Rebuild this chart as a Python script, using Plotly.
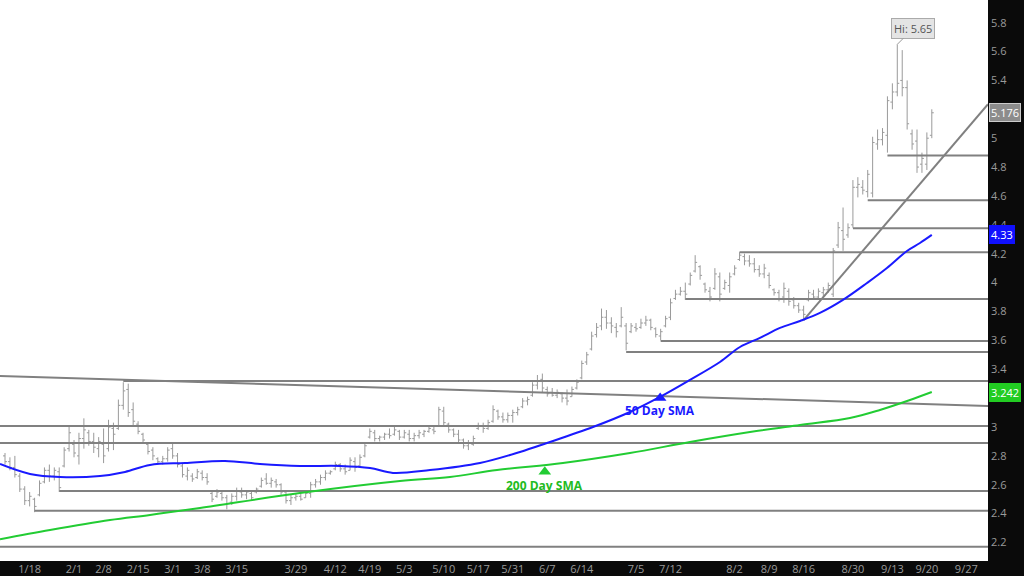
import plotly.graph_objects as go

# ---------------- data ----------------
highs = [2.82,2.79,2.80,2.68,2.59,2.55,2.51,2.63,2.72,2.74,2.72,2.72,2.86,3.00,2.91,2.96,3.06,2.98,2.96,2.93,
         2.99,3.05,3.03,3.19,3.31,3.30,3.17,3.04,2.96,2.89,2.86,2.79,2.80,2.86,2.89,2.82,2.75,2.72,2.68,2.71,
         2.70,2.68,2.56,2.57,2.56,2.53,2.54,2.58,2.58,2.56,2.56,2.58,2.65,2.68,2.65,2.64,2.61,2.56,2.53,2.54,
         2.54,2.56,2.62,2.64,2.67,2.70,2.70,2.76,2.75,2.74,2.79,2.79,2.81,2.89,2.99,2.98,2.94,2.96,2.99,3.00,
         2.98,2.98,2.98,2.96,2.98,2.98,3.00,3.00,3.14,3.14,3.03,2.99,2.98,2.92,2.91,2.94,3.03,3.03,3.05,3.15,
         3.12,3.10,3.10,3.12,3.14,3.20,3.21,3.31,3.36,3.37,3.28,3.27,3.26,3.24,3.26,3.28,3.33,3.46,3.52,3.66,
         3.72,3.82,3.81,3.76,3.72,3.83,3.72,3.72,3.72,3.75,3.77,3.75,3.69,3.68,3.77,3.89,3.95,3.97,4.00,4.07,
         4.19,4.12,4.00,3.97,4.10,4.07,4.02,4.07,4.12,4.21,4.20,4.19,4.17,4.12,4.13,4.07,3.96,3.95,4.00,3.96,
         3.90,3.86,3.84,3.95,3.95,3.96,3.97,4.00,4.24,4.42,4.52,4.41,4.71,4.73,4.71,4.78,5.01,5.06,5.07,5.29,
         5.38,5.65,5.61,5.40,5.06,5.06,4.90,5.04,5.20]
lows = [2.74,2.70,2.65,2.55,2.46,2.45,2.41,2.52,2.61,2.62,2.63,2.55,2.72,2.83,2.79,2.74,2.85,2.87,2.82,2.79,
        2.75,2.83,2.84,2.98,3.12,3.07,3.01,2.95,2.89,2.81,2.77,2.74,2.74,2.76,2.78,2.72,2.65,2.63,2.62,2.64,
        2.63,2.60,2.48,2.51,2.49,2.43,2.46,2.49,2.51,2.50,2.49,2.54,2.58,2.60,2.58,2.58,2.53,2.47,2.46,2.49,
        2.49,2.51,2.51,2.58,2.60,2.63,2.67,2.70,2.69,2.67,2.70,2.69,2.72,2.79,2.92,2.90,2.90,2.91,2.92,2.94,
        2.91,2.92,2.90,2.90,2.92,2.93,2.96,2.95,3.00,3.01,2.96,2.93,2.89,2.85,2.84,2.87,2.98,2.96,2.98,3.03,
        3.05,3.03,3.03,3.03,3.08,3.13,3.15,3.21,3.26,3.24,3.21,3.21,3.20,3.17,3.15,3.21,3.26,3.33,3.43,3.53,
        3.62,3.67,3.68,3.65,3.62,3.69,3.53,3.65,3.66,3.68,3.70,3.67,3.62,3.60,3.69,3.74,3.88,3.91,3.88,3.98,
        4.07,4.02,3.93,3.87,3.95,3.87,3.95,3.93,4.05,4.15,4.12,4.11,4.07,4.04,4.03,3.96,3.91,3.87,3.86,3.84,
        3.82,3.79,3.74,3.87,3.88,3.89,3.90,3.93,3.90,4.24,4.22,4.31,4.38,4.59,4.61,4.59,4.59,4.92,4.95,4.90,
        5.20,5.29,5.29,5.06,4.92,4.76,4.76,4.78,5.00]
opens = [2.80,2.76,2.72,2.66,2.57,2.49,2.50,2.53,2.62,2.70,2.66,2.69,2.73,2.85,2.88,2.80,2.92,2.96,2.90,2.85,
         2.88,2.85,2.99,2.99,3.15,3.26,3.12,3.02,2.95,2.88,2.84,2.78,2.76,2.78,2.85,2.80,2.73,2.66,2.66,2.65,
         2.68,2.65,2.54,2.52,2.54,2.51,2.48,2.52,2.55,2.53,2.54,2.55,2.59,2.64,2.61,2.62,2.60,2.55,2.49,2.51,
         2.52,2.51,2.54,2.60,2.62,2.65,2.68,2.71,2.74,2.71,2.70,2.76,2.73,2.80,2.93,2.96,2.92,2.93,2.95,2.95,
         2.97,2.93,2.95,2.92,2.94,2.95,2.97,2.98,3.01,3.11,3.02,2.98,2.95,2.91,2.87,2.88,2.99,3.01,2.99,3.04,
         3.11,3.07,3.05,3.08,3.10,3.14,3.18,3.22,3.29,3.33,3.26,3.24,3.22,3.23,3.20,3.21,3.27,3.34,3.45,3.54,
         3.64,3.70,3.76,3.72,3.69,3.70,3.70,3.66,3.69,3.69,3.72,3.74,3.68,3.63,3.70,3.76,3.89,3.92,3.94,3.99,
         4.08,4.11,3.99,3.94,3.96,4.04,3.96,3.98,4.06,4.16,4.18,4.15,4.13,4.09,4.06,4.05,3.95,3.93,3.90,3.94,
         3.88,3.84,3.81,3.88,3.92,3.90,3.93,3.95,3.92,4.26,4.36,4.33,4.40,4.66,4.66,4.63,4.62,4.96,4.99,5.02,
         5.25,5.32,5.40,5.35,5.03,4.98,4.82,4.82,5.02]
closes = [2.76,2.72,2.67,2.57,2.49,2.52,2.45,2.61,2.70,2.66,2.70,2.58,2.84,2.96,2.82,2.92,2.98,2.90,2.86,2.90,
          2.80,3.00,2.95,3.15,3.25,3.10,3.04,2.97,2.91,2.83,2.80,2.76,2.78,2.84,2.80,2.74,2.67,2.70,2.64,2.69,
          2.65,2.62,2.50,2.55,2.51,2.47,2.52,2.56,2.53,2.55,2.51,2.57,2.63,2.61,2.63,2.60,2.55,2.49,2.51,2.52,
          2.50,2.54,2.60,2.62,2.65,2.68,2.69,2.74,2.71,2.69,2.77,2.72,2.79,2.87,2.97,2.92,2.93,2.95,2.94,2.98,
          2.93,2.96,2.92,2.94,2.96,2.97,2.99,2.97,3.12,3.03,2.98,2.95,2.91,2.87,2.89,2.92,3.01,2.99,3.03,3.12,
          3.07,3.05,3.08,3.10,3.12,3.18,3.19,3.29,3.32,3.27,3.23,3.22,3.24,3.20,3.18,3.26,3.31,3.44,3.50,3.63,
          3.69,3.76,3.72,3.70,3.66,3.76,3.58,3.70,3.68,3.72,3.74,3.69,3.64,3.66,3.75,3.86,3.92,3.94,3.92,4.05,
          4.14,4.05,3.95,3.90,4.06,3.92,4.00,4.04,4.10,4.19,4.15,4.13,4.09,4.06,4.10,3.98,3.93,3.89,3.96,3.87,
          3.84,3.81,3.78,3.93,3.90,3.94,3.95,3.98,4.22,4.38,4.30,4.38,4.66,4.68,4.64,4.75,4.97,4.99,5.04,5.26,
          5.32,5.38,5.35,5.10,4.96,4.80,4.86,5.00,5.176]
bar_index = list(range(len(closes)))

tick_pos = [5, 14, 20, 27, 34, 40, 47, 59, 67, 74, 81, 89, 96, 103, 110, 117, 128, 135, 148, 155, 162, 172, 180, 187, 195]
tick_text = ["1/18", "2/1", "2/8", "2/15", "3/1", "3/8", "3/15", "3/29", "4/12", "4/19", "5/3", "5/10", "5/17",
             "5/31", "6/7", "6/14", "7/5", "7/12", "8/2", "8/9", "8/16", "8/30", "9/13", "9/20", "9/27"]

y_ticks = [2.2, 2.4, 2.6, 2.8, 3.0, 3.2, 3.4, 3.6, 3.8, 4.0, 4.2, 4.4, 4.6, 4.8, 5.0, 5.2, 5.4, 5.6, 5.8]
y_tick_text = ["2.2", "2.4", "2.6", "2.8", "3", "3.2", "3.4", "3.6", "3.8", "4", "4.2", "4.4", "4.6", "4.8",
               "5", "5.2", "5.4", "5.6", "5.8"]

sma50_x = [-1.01, 5.07, 11.16, 19.27, 24.34, 29.41, 36.51, 44.62, 51.72, 59.84, 67.95, 74.04, 78.70, 86.21,
           96.35, 104.46, 109.94, 119.27, 126.77, 132.86, 138.95, 145.03, 149.09, 153.14, 157.20, 161.26,
           165.31, 169.98, 174.85, 178.90, 182.96, 185.60, 188.0]
sma50_y = [2.744, 2.675, 2.654, 2.661, 2.689, 2.737, 2.751, 2.765, 2.744, 2.730, 2.730, 2.716, 2.682, 2.702,
           2.751, 2.827, 2.889, 3.000, 3.104, 3.208, 3.326, 3.450, 3.554, 3.617, 3.686, 3.734, 3.790, 3.880,
           3.997, 4.101, 4.219, 4.274, 4.33]
sma200_x = [-1.01, 9.13, 21.30, 29.41, 39.55, 59.84, 80.12, 90.26, 99.80, 113.18, 126.77, 138.95, 151.12,
            161.26, 171.40, 177.48, 183.57, 188.0]
sma200_y = [2.223, 2.287, 2.356, 2.391, 2.439, 2.543, 2.626, 2.654, 2.702, 2.751, 2.820, 2.896, 2.965,
            3.014, 3.062, 3.118, 3.187, 3.242]

level_prices = [2.17, 2.42, 2.556, 2.89, 3.007, 3.318, 3.52, 3.596, 3.887, 4.21, 4.377, 4.57, 4.88]
level_start = [-1.02, 6, 11, -1.02, -1.02, 24, 126, 133, 138, 149, 172, 175, 179]

decline_x = [-1.02, 199.4]
decline_y = [3.353, 3.146]
trend_x = [162, 199.4]
trend_y = [3.74, 5.235]

last_price = 5.176
last_sma50 = 4.33
last_sma200 = 3.242
high_idx = 181
high_val = 5.65

sma50_label_x, sma50_label_y, sma50_mark_y = 132.9, 3.111, 3.20
sma200_label_x, sma200_label_y, sma200_mark_y = 109.5, 2.592, 2.69

X_RANGE = [-1.014, 199.4]
Y_RANGE = [2.072, 5.957]

# ---------------- figure ----------------
LINE_GRAY = "#808080"
BLUE = "#1a1aff"
GREEN = "#22cc33"
FONT = "Open Sans"

fig = go.Figure()

for p, s in zip(level_prices, level_start):
    fig.add_trace(go.Scatter(x=[s, X_RANGE[1]], y=[p, p], mode="lines",
                             line=dict(color=LINE_GRAY, width=2), hoverinfo="skip", showlegend=False))
fig.add_trace(go.Scatter(x=decline_x, y=decline_y, mode="lines",
                         line=dict(color=LINE_GRAY, width=2), hoverinfo="skip", showlegend=False))
fig.add_trace(go.Scatter(x=trend_x, y=trend_y, mode="lines",
                         line=dict(color=LINE_GRAY, width=2), hoverinfo="skip", showlegend=False))

fig.add_trace(go.Scatter(x=sma200_x, y=sma200_y, mode="lines", line=dict(color=GREEN, width=2, shape="spline"),
                         showlegend=False, hoverinfo="skip"))
fig.add_trace(go.Scatter(x=sma50_x, y=sma50_y, mode="lines", line=dict(color=BLUE, width=2, shape="spline"),
                         showlegend=False, hoverinfo="skip"))

fig.add_trace(go.Ohlc(x=bar_index, open=opens, high=highs, low=lows, close=closes,
                      increasing=dict(line=dict(color="#9a9a9a", width=1)),
                      decreasing=dict(line=dict(color="#9a9a9a", width=1)),
                      tickwidth=0.4, showlegend=False))

# SMA markers and labels
fig.add_trace(go.Scatter(x=[sma50_label_x, sma200_label_x], y=[sma50_mark_y, sma200_mark_y], mode="markers",
                         marker=dict(symbol="triangle-up", size=11, color=[BLUE, GREEN]),
                         showlegend=False, hoverinfo="skip"))
fig.add_annotation(x=sma50_label_x, y=sma50_label_y, text="<b>50 Day SMA</b>", showarrow=False,
                   font=dict(family=FONT, size=12, color=BLUE))
fig.add_annotation(x=sma200_label_x, y=sma200_label_y, text="<b>200 Day SMA</b>", showarrow=False,
                   font=dict(family=FONT, size=12, color="#22bb22"))

# high label
fig.add_annotation(x=high_idx, y=high_val, text="Hi: 5.65", showarrow=True, arrowhead=0, arrowwidth=1,
                   arrowcolor="#999999", ax=16, ay=-16, bgcolor="#e4e4e4", bordercolor="#aaaaaa",
                   borderwidth=1, borderpad=2, font=dict(family=FONT, size=11, color="#555555"))

# right-axis value badges
for val, txt, bg in [(last_price, "5.176", "#8c8c8c"), (last_sma50, "4.33", "#1010ff"),
                     (last_sma200, "3.242", "#22cc22")]:
    fig.add_annotation(xref="paper", x=1, xanchor="left", xshift=1, y=val, yref="y", text=txt,
                       showarrow=False, bgcolor=bg, bordercolor="#cccccc" if txt == "5.176" else bg,
                       borderwidth=1, borderpad=1, font=dict(family=FONT, size=11, color="white"))

fig.update_layout(
    width=1024, height=576,
    margin=dict(l=0, r=36, t=0, b=15, autoexpand=False),
    paper_bgcolor="#0a0a0a", plot_bgcolor="white",
    font=dict(family=FONT, size=11, color="#9a9a9a"),
    showlegend=False,
    hovermode=False,
    xaxis=dict(range=X_RANGE, tickvals=tick_pos, ticktext=tick_text, showgrid=False, zeroline=False,
               rangeslider=dict(visible=False), ticks="", tickfont=dict(size=11, color="#9a9a9a"),
               automargin=False),
    yaxis=dict(range=Y_RANGE, side="right", tickvals=y_ticks, ticktext=y_tick_text, showgrid=False,
               zeroline=False, ticks="", tickfont=dict(size=11, color="#9a9a9a"), ticklabelstandoff=2,
               automargin=False),
)

fig.write_html("out.html", config={"displayModeBar": False},
               post_script="document.body.style.margin='0';document.body.style.overflow='hidden';")
